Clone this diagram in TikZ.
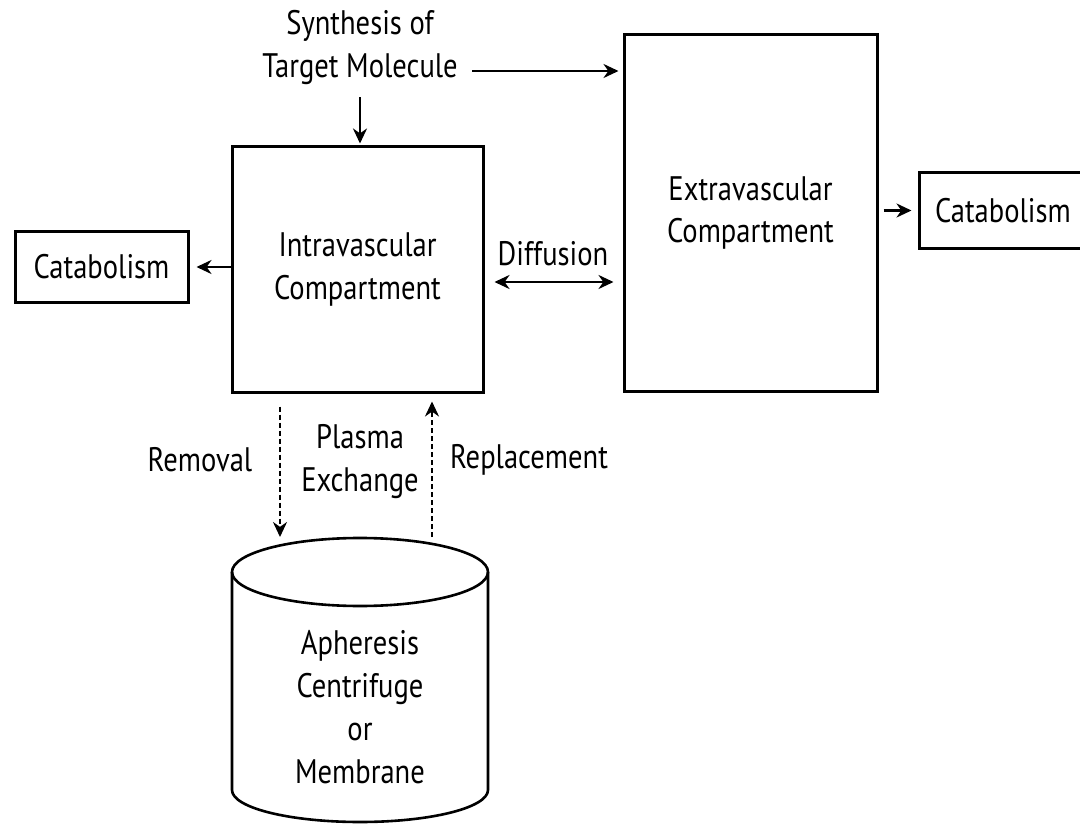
\documentclass[tikz,border=0pt]{standalone}
\usepackage{fontspec}
\setmainfont[FakeStretch=0.84]{PT Sans}
\usetikzlibrary{arrows.meta}
\begin{document}
\begin{tikzpicture}[x=1pt,y=-1pt,
  box/.style={draw,line width=3pt,inner sep=0pt,font=\fontsize{34}{43}\selectfont,align=center},
  lbl/.style={font=\fontsize{34}{43}\selectfont,align=center,inner sep=0pt},
  arr/.style={line width=2.8pt,-{Stealth[length=15pt,width=14pt]}},
  biarr/.style={line width=2.8pt,{Stealth[length=15pt,width=14pt]}-{Stealth[length=15pt,width=14pt]}},
  darr/.style={line width=2pt,dash pattern=on 5pt off 3pt,-{Stealth[length=15pt,width=14pt]}}]
\useasboundingbox (0,0) rectangle (1080,824);
\clip (0,0) rectangle (1080,824);
% boxes
\node[box,minimum width=251pt,minimum height=245pt] (intra) at (357.5,269.5) {Intravascular\\Compartment};
\node[box,minimum width=253pt,minimum height=356pt] (extra) at (750.5,213) {Extravascular\\Compartment};
\node[box,minimum width=173pt,minimum height=70pt] (catL) at (101.5,267) {Catabolism};
\node[box,minimum width=181pt,minimum height=75pt,text width=181pt,align=left] (catR) at (1009.5,210.5) {\hspace*{16pt}Catabolism};
% labels
\node[lbl] (synth) at (360,48) {Synthesis of\\Target Molecule};
\node[lbl] (diff) at (553,254) {Diffusion};
\node[lbl] (rem) at (200,460) {Removal};
\node[lbl] (pex) at (360,462) {Plasma\\Exchange};
\node[lbl] (rep) at (529,460) {Replacement};
% cylinder
\draw[line width=2.6pt] (232,572) -- (232,790) arc[start angle=180,end angle=0,x radius=128,y radius=32] -- (488,572);
\draw[line width=2.6pt] (360,572) ellipse[x radius=128,y radius=34];
\node[lbl] (cyl) at (360,707) {Apheresis\\Centrifuge\\or\\Membrane};
\coordinate (cylR) at (280,546);
\coordinate (cylP) at (432,545);
% connectors
\coordinate (s1) at (472,71);
\draw[arr,shorten >=4pt] (s1) -- (extra.west |- s1);
\draw[arr,shorten <=12pt,shorten >=2pt] (synth.south) -- (synth.south |- intra.north);
\draw[arr,shorten >=7pt] (intra.west |- catL.east) -- (catL.east);
\draw[arr,shorten <=5pt,shorten >=6pt] (extra.east |- catR.west) -- (catR.west);
\path (intra.east) ++(0,12.5) coordinate (d1);
\path (extra.west |- d1) coordinate (d2);
\draw[biarr,shorten <=10pt,shorten >=9pt] (d1) -- (d2);
\draw[darr,shorten <=13pt,shorten >=9pt] (intra.south -| cylR) -- (cylR);
\draw[darr,shorten <=8pt,shorten >=8pt] (cylP) -- (intra.south -| cylP);
\end{tikzpicture}
\end{document}
